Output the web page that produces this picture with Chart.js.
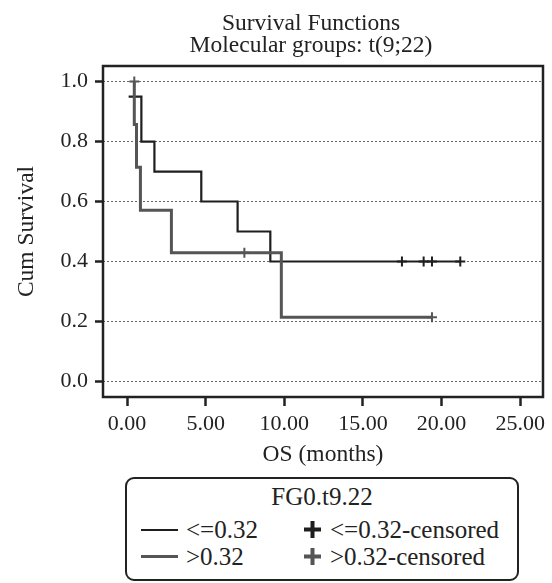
<!DOCTYPE html>
<html>
<head>
<meta charset="utf-8">
<script src="https://cdn.jsdelivr.net/npm/chart.js@4"></script>
<style>
  body { margin: 0; background: #fff; font-family: "Liberation Serif", serif; }
  #wrap { position: relative; width: 552px; height: 583px; }
  #km { position: absolute; left: 0; top: 0; }
  .legend-box {
    position: absolute; left: 125px; top: 477px; width: 394px; height: 104px;
    box-sizing: border-box; border: 2.5px solid #222; border-radius: 9px;
    color: #222; font-size: 25px;
  }
  .legend-title { text-align: center; margin-top: 4px; line-height: 28px; }
  .legend-grid { display: grid; grid-template-columns: 163px 220px; margin-top: 5px; margin-left: 14px; }
  .legend-item { display: flex; align-items: center; line-height: 27px; }
  .legend-line { display: inline-block; width: 37px; margin-right: 8px; }
  .legend-item svg { margin-right: 9px; }
</style>
</head>
<body>
<div id="wrap">
  <canvas id="km" width="552" height="470"></canvas>
  <div class="legend-box">
    <div class="legend-title" id="legendTitle"></div>
    <div class="legend-grid" id="legendGrid"></div>
  </div>
</div>
<script>
const titleLines = ["Survival Functions", "Molecular groups: t(9;22)"];
const groupLabels = ["<=0.32", ">0.32"];
const legendHeading = "FG0.t9.22";

const lowTimes = [0.1, 0.91, 1.74, 4.72, 7.03, 9.11, 21.19];
const lowSurv = [0.95, 0.8, 0.7, 0.6, 0.5, 0.4, 0.4];
const highTimes = [0.46, 0.46, 0.6, 0.85, 2.82, 9.81, 19.39];
const highSurv = [1.0, 0.857, 0.714, 0.571, 0.429, 0.214, 0.214];

const lowCensorTimes = [17.48, 18.86, 19.39, 21.19];
const lowCensorSurv = [0.4, 0.4, 0.4, 0.4];
const highCensorTimes = [0.46, 7.46, 19.39];
const highCensorSurv = [1.0, 0.429, 0.214];

const xTicks = [0, 5, 10, 15, 20, 25];
const yTicks = [0, 0.2, 0.4, 0.6, 0.8, 1.0];

const lowColor = "#1e1e1e";
const highColor = "#555555";
const serif = "'Liberation Serif', 'Times New Roman', serif";

const toPoints = (xs, ys) => xs.map((x, i) => ({ x: x, y: ys[i] }));

// title + frame drawn straight on the canvas
const framePlugin = {
  id: "frame",
  afterDraw(chart) {
    const { ctx, chartArea } = chart;
    ctx.save();
    ctx.strokeStyle = "#222";
    ctx.lineWidth = 2.5;
    ctx.strokeRect(chartArea.left, chartArea.top, chartArea.right - chartArea.left, chartArea.bottom - chartArea.top);
    ctx.fillStyle = "#222";
    ctx.font = "23.5px " + serif;
    ctx.textAlign = "center";
    ctx.textBaseline = "middle";
    const cx = (chartArea.left + chartArea.right) / 2 - 12;
    titleLines.forEach((t, i) => ctx.fillText(t, cx, 24 + i * 22));
    ctx.restore();
  },
};

const ctx = document.getElementById("km").getContext("2d");
new Chart(ctx, {
  type: "line",
  data: {
    datasets: [
      {
        label: groupLabels[1],
        data: toPoints(highTimes, highSurv),
        borderColor: highColor,
        borderWidth: 3,
        stepped: true,
        pointRadius: 0,
        fill: false,
        order: 2,
      },
      {
        label: groupLabels[0],
        data: toPoints(lowTimes, lowSurv),
        borderColor: lowColor,
        borderWidth: 2.2,
        stepped: true,
        pointRadius: 0,
        fill: false,
        order: 3,
      },
      {
        label: groupLabels[0] + "-censored",
        data: toPoints(lowCensorTimes, lowCensorSurv),
        showLine: false,
        pointStyle: "cross",
        pointRadius: 5,
        pointBorderWidth: 2,
        pointBorderColor: lowColor,
        order: 1,
      },
      {
        label: groupLabels[1] + "-censored",
        data: toPoints(highCensorTimes, highCensorSurv),
        showLine: false,
        pointStyle: "cross",
        pointRadius: 5,
        pointBorderWidth: 2,
        pointBorderColor: highColor,
        order: 0,
      },
    ],
  },
  options: {
    responsive: false,
    animation: false,
    layout: { padding: { top: 66, left: 0, right: 9, bottom: 0 } },
    plugins: {
      legend: { display: false },
      title: { display: false },
      tooltip: { enabled: false },
    },
    scales: {
      x: {
        type: "linear",
        min: -1.53,
        max: 26.45,
        afterBuildTicks: (scale) => { scale.ticks = xTicks.map((v) => ({ value: v })); },
        afterFit: (scale) => { scale.height = 73; },
        border: { display: false },
        grid: { drawOnChartArea: false, drawTicks: true, tickLength: 9, tickColor: "#222", tickWidth: 2.5 },
        ticks: {
          color: "#222",
          padding: 5,
          font: { family: serif, size: 22 },
          callback: (v) => v.toFixed(2),
        },
        title: {
          display: true,
          text: "OS (months)",
          color: "#222",
          font: { family: serif, size: 23.5 },
          padding: { top: 0, bottom: 1 },
        },
      },
      y: {
        type: "linear",
        min: -0.052,
        max: 1.052,
        afterBuildTicks: (scale) => { scale.ticks = yTicks.map((v) => ({ value: v })); },
        afterFit: (scale) => { scale.width = 103; },
        border: { display: false, dash: [2, 2] },
        grid: {
          color: "#666",
          lineWidth: 1,
          drawTicks: true,
          tickLength: 8,
          tickColor: "#222",
          tickWidth: 2.5,
          tickBorderDash: [],
        },
        ticks: {
          color: "#222",
          padding: 7,
          font: { family: serif, size: 22 },
          callback: (v) => v.toFixed(1),
        },
        title: {
          display: true,
          text: "Cum Survival",
          color: "#222",
          font: { family: serif, size: 23.5 },
          padding: { top: 13, bottom: 0 },
        },
      },
    },
  },
  plugins: [framePlugin],
});

// legend below the chart, two columns like the original
document.getElementById("legendTitle").textContent = legendHeading;
const grid = document.getElementById("legendGrid");
const colors = [lowColor, highColor];
const widths = [2, 3];
groupLabels.forEach((lab, i) => {
  const a = document.createElement("div");
  a.className = "legend-item";
  a.innerHTML = `<span class="legend-line" style="border-top:${widths[i]}px solid ${colors[i]}"></span>`;
  a.appendChild(document.createTextNode(lab));
  const b = document.createElement("div");
  b.className = "legend-item";
  b.innerHTML = `<svg width="17" height="17"><path d="M8.5 0V17M0 8.5H17" stroke="${colors[i]}" stroke-width="4"/></svg>`;
  b.appendChild(document.createTextNode(lab + "-censored"));
  grid.appendChild(a);
  grid.appendChild(b);
});
</script>
</body>
</html>
